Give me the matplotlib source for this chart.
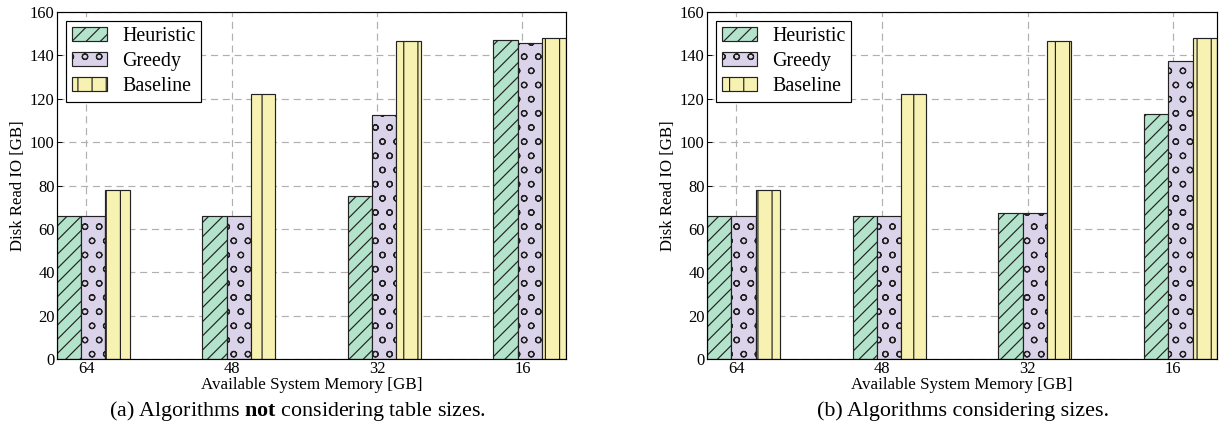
import matplotlib
matplotlib.use("Agg")
import matplotlib.pyplot as plt
import numpy as np

# ---- data ----
memory_labels = ["64", "48", "32", "16"]
series_names = ["Heuristic", "Greedy", "Baseline"]

# (a) Algorithms not considering table sizes
a_heuristic = [66, 66, 75, 147]
a_greedy = [66, 66, 112.5, 145.5]
a_baseline = [78, 122, 146.5, 148]

# (b) Algorithms considering sizes
b_heuristic = [66, 66, 67.5, 113]
b_greedy = [66, 66, 67.5, 137.5]
b_baseline = [78, 122, 146.5, 148]

captions = [r"(a) Algorithms $\mathbf{not}$ considering table sizes.",
            "(b) Algorithms considering sizes."]
caption_x_px = [297, 963]

colors = ["#b4e3cc", "#dbd3ea", "#f7f2b2"]
hatches = ["//", "o", "|"]

DPI = 85
W, H = 1221, 431
plt.rcParams["font.family"] = ["Liberation Serif", "DejaVu Serif"]
plt.rcParams["mathtext.fontset"] = "custom"
plt.rcParams["mathtext.rm"] = "Liberation Serif"
plt.rcParams["mathtext.bf"] = "Liberation Serif:bold"
plt.rcParams["hatch.linewidth"] = 1.0

fig = plt.figure(figsize=(W / DPI, H / DPI), dpi=DPI)

def px(v):
    return v * 72.0 / DPI

axes_px = [(57, 566), (707, 1217)]
top_px, bot_px = 12, 359
datasets = [(a_heuristic, a_greedy, a_baseline), (b_heuristic, b_greedy, b_baseline)]

w = 1.0 / 6
ind = np.arange(len(memory_labels))

for k, ((x0, x1), data) in enumerate(zip(axes_px, datasets)):
    ax = fig.add_axes([x0 / W, (H - bot_px) / H, (x1 - x0) / W, (bot_px - top_px) / H])
    ax.set_axisbelow(True)
    for i, (vals, name) in enumerate(zip(data, series_names)):
        ax.bar(ind - 0.2 + i * w, vals, w, align="edge", color=colors[i],
               edgecolor="#222222", linewidth=1.0, hatch=hatches[i], label=name)
    ax.set_xlim(-0.2, 3.3)
    ax.set_ylim(0, 160)
    ax.set_yticks(np.arange(0, 161, 20))
    ax.set_xticks(ind)
    ax.set_xticklabels(memory_labels)
    ax.tick_params(direction="in", length=4, width=0.8, labelsize=px(16.5), pad=2)
    ax.tick_params(axis="x", length=0, pad=2)
    ax.grid(True, color="#b0b0b0", linestyle=(0, (6, 4)), linewidth=1.0)
    for s in ax.spines.values():
        s.set_linewidth(1.0)
    ax.set_ylabel("Disk Read IO [GB]", fontsize=px(16.8), labelpad=3)
    ax.set_xlabel("Available System Memory [GB]", fontsize=px(17), labelpad=0)
    leg = ax.legend(loc="upper left", fontsize=px(20), fancybox=False, framealpha=1,
                    edgecolor="black", borderaxespad=0.45, handlelength=1.75,
                    handleheight=0.65, labelspacing=0.3, borderpad=0.3, handletextpad=0.75)
    leg.get_frame().set_linewidth(1.0)
    fig.text(caption_x_px[k] / W, 1 - 411 / H, captions[k], ha="center", va="center",
             fontsize=px(22))

fig.savefig("out.png", dpi=DPI)
